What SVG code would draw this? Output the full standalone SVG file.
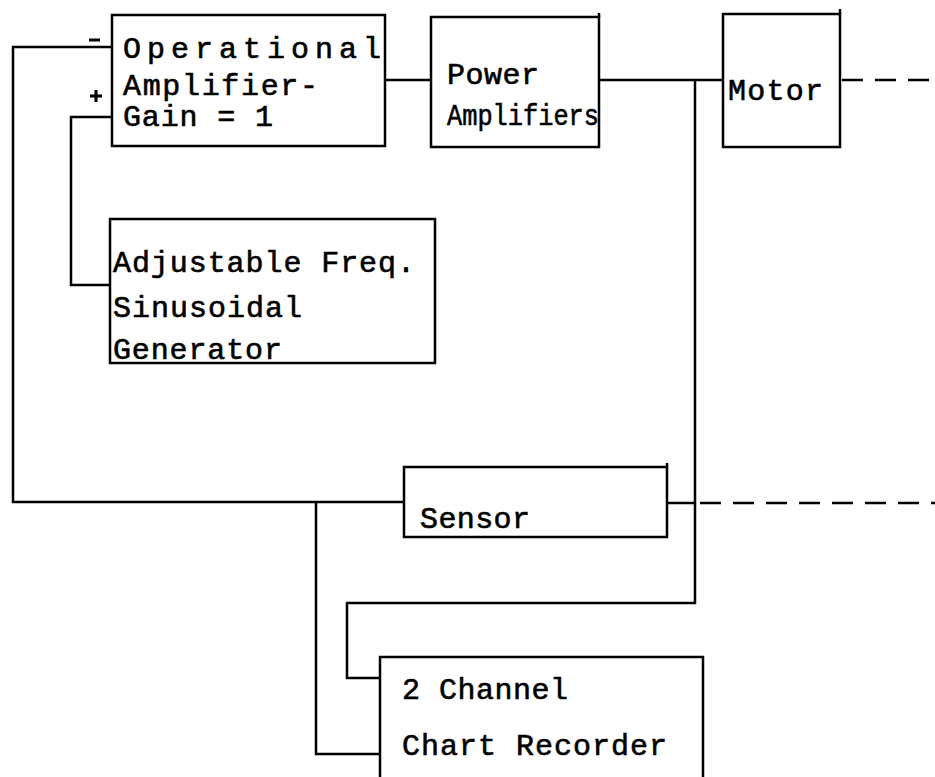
<svg xmlns="http://www.w3.org/2000/svg" width="935" height="777" viewBox="0 0 935 777">
<style>
.box{fill:none;stroke:#000;stroke-width:2.5}
.ln{fill:none;stroke:#000;stroke-width:2.5;stroke-linejoin:miter}
.dash{fill:none;stroke:#000;stroke-width:2.5;stroke-dasharray:21 12}
.t{font-family:"Liberation Mono","Courier New",monospace;font-size:30px;fill:#000;stroke:#000;stroke-width:0.6}
.sg{fill:none;stroke:#000;stroke-width:3}
</style>
<rect width="935" height="777" fill="#fff"/>
<g id="connectors">
  <polyline class="ln" points="112,47 13,47 13,502 404,502"/>
  <polyline class="ln" points="112,117 71,117 71,285 110,285"/>
  <line class="ln" x1="385" y1="80" x2="431" y2="80"/>
  <line class="ln" x1="599" y1="80" x2="723" y2="80"/>
  <polyline class="ln" points="695,80 695,603 347,603 347,678 380,678"/>
  <polyline class="ln" points="316,502 316,754 380,754"/>
  <line class="ln" x1="667" y1="503" x2="696" y2="503"/>
  <line class="dash" x1="700" y1="503" x2="935" y2="503"/>
  <line class="dash" x1="842" y1="80" x2="935" y2="80"/>
  <line class="sg" x1="89" y1="40" x2="100" y2="40"/>
  <line class="sg" x1="90" y1="96" x2="102" y2="96"/>
  <line class="sg" x1="96" y1="90" x2="96" y2="102"/>
</g>
<g id="opamp">
  <rect class="box" x="112" y="15" width="273" height="131"/>
  <text class="t" x="123" y="58" textLength="258" lengthAdjust="spacing">Operational</text>
  <text class="t" x="123" y="95" textLength="195" lengthAdjust="spacing">Amplifier-</text>
  <text class="t" x="123" y="126" textLength="150" lengthAdjust="spacing">Gain = 1</text>
</g>
<g id="poweramp">
  <rect class="box" x="431" y="17" width="168" height="130"/>
  <line class="box" x1="599" y1="13" x2="599" y2="17"/>
  <text class="t" x="447" y="84" textLength="92" lengthAdjust="spacing">Power</text>
  <text class="t" x="447" y="125" textLength="152" lengthAdjust="spacingAndGlyphs">Amplifiers</text>
</g>
<g id="motor">
  <rect class="box" x="723" y="14" width="117" height="133"/>
  <line class="box" x1="840" y1="9" x2="840" y2="14"/>
  <text class="t" x="728" y="100" textLength="95" lengthAdjust="spacing">Motor</text>
</g>
<g id="generator">
  <rect class="box" x="110" y="219" width="325" height="144"/>
  <text class="t" x="113" y="272" textLength="302" lengthAdjust="spacing">Adjustable Freq.</text>
  <text class="t" x="113" y="317" textLength="189" lengthAdjust="spacing">Sinusoidal</text>
  <text class="t" x="113" y="359" textLength="169" lengthAdjust="spacing">Generator</text>
</g>
<g id="sensor">
  <rect class="box" x="404" y="467" width="263" height="70"/>
  <line class="box" x1="667" y1="463" x2="667" y2="467"/>
  <text class="t" x="420" y="528" textLength="110" lengthAdjust="spacing">Sensor</text>
</g>
<g id="recorder">
  <rect class="box" x="380" y="657" width="323" height="140"/>
  <text class="t" x="402" y="699" textLength="166" lengthAdjust="spacing">2 Channel</text>
  <text class="t" x="402" y="755" textLength="265" lengthAdjust="spacing">Chart Recorder</text>
</g>
</svg>
